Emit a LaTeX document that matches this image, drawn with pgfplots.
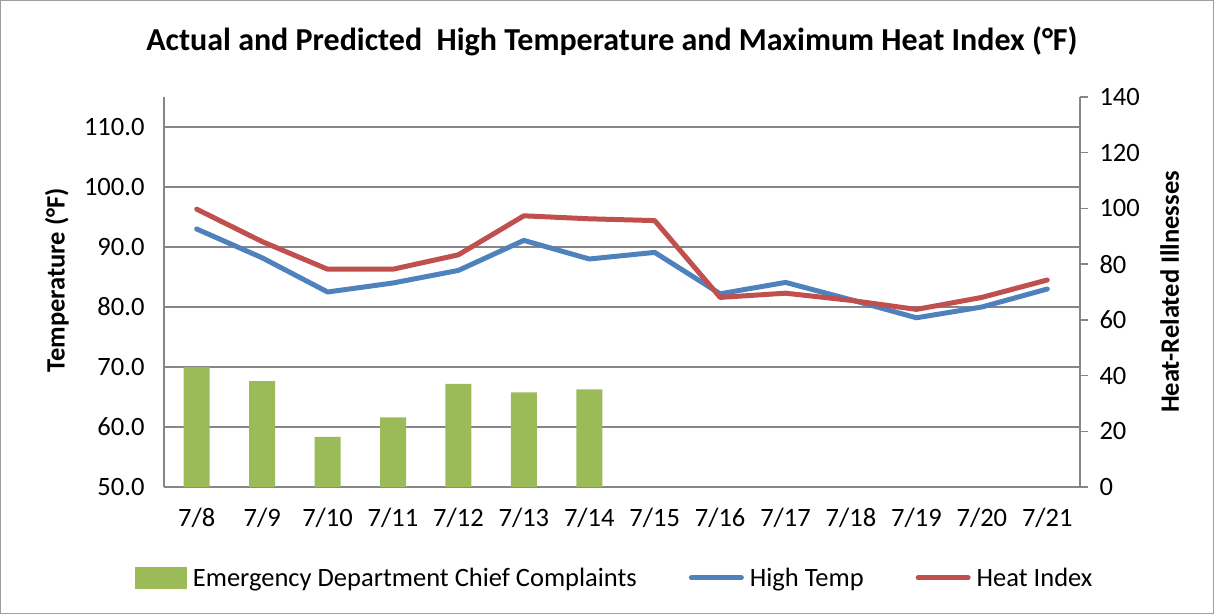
\documentclass[border=0pt]{standalone}
\usepackage{pgfplots}
\usepackage{pgfplotstable}
\pgfplotsset{compat=1.18}
\usepackage{fontspec}
\setmainfont{Carlito}
\definecolor{cblue}{HTML}{4F81BD}
\definecolor{cred}{HTML}{C0504D}
\definecolor{cgreen}{HTML}{9BBB59}
\definecolor{cgrid}{HTML}{868686}

\pgfplotstableread{
x ht hi
0 93.0 96.3
1 88.2 90.9
2 82.5 86.3
3 84.0 86.3
4 86.1 88.7
5 91.1 95.2
6 88.0 94.7
7 89.1 94.4
8 82.2 81.6
9 84.1 82.3
10 81.2 81.1
11 78.2 79.6
12 80.0 81.6
13 83.0 84.5
}\temps

\pgfplotstableread{
x c
0 43
1 38
2 18
3 25
4 37
5 34
6 35
}\ed

\begin{document}
\begin{tikzpicture}[font=\fontsize{26.5bp}{31bp}\selectfont]
\pgfplotsset{
  every axis/.append style={
    scale only axis, width=916bp, height=390bp,
    xmin=-0.5, xmax=13.5,
    axis line style={-, cgrid, line width=1.3bp},
    tick style={cgrid, line width=1.3bp},
  }
}
\begin{axis}[
  ymin=50, ymax=115,
  axis x line*=bottom, axis y line*=left,
  xtick={0,...,13},
  xticklabels={7/8,7/9,7/10,7/11,7/12,7/13,7/14,7/15,7/16,7/17,7/18,7/19,7/20,7/21},
  ytick={50,60,...,110},
  major tick length=0pt,
  ymajorgrids, grid style={cgrid, line width=1.3bp},
  yticklabel style={/pgf/number format/fixed, /pgf/number format/fixed zerofill, /pgf/number format/precision=1, /pgf/number format/assume math mode=true, xshift=-16bp},
  xticklabel style={/pgf/number format/assume math mode=true, yshift=-18bp},
  ylabel={\bfseries Temperature (°F)},
  ylabel style={at={(axis description cs:-0.117,0.53)}, anchor=center},
  title={\bfseries Actual and Predicted\ \ High Temperature and Maximum Heat Index (°F)},
  title style={at={(axis description cs:0.489,1)}, anchor=base, yshift=41bp, font=\fontsize{32bp}{36bp}\selectfont},
]
\coordinate (o) at (rel axis cs:0,0);
\addplot[cblue, line width=5bp, line join=round, line cap=round] table[x=x,y=ht]{\temps};
\addplot[cred, line width=5bp, line join=round, line cap=round] table[x=x,y=hi]{\temps};
\end{axis}
\begin{axis}[
  ymin=0, ymax=140,
  axis y line*=right, hide x axis,
  ytick={0,20,...,140},
  tick align=outside, major tick length=8bp,
  yticklabel style={/pgf/number format/assume math mode=true, xshift=8bp},
  ylabel={\bfseries Heat-Related Illnesses},
  ylabel style={at={(axis description cs:1.098,0.5)}, anchor=center},
  legend style={at={(axis description cs:0.492,-0.233)}, anchor=center, draw=none, fill=none,
    legend columns=3,
    /tikz/every odd column/.append style={column sep=4bp},
    /tikz/every even column/.append style={column sep=50bp},
    font=\fontsize{26.5bp}{31bp}\selectfont},
  legend cell align=left,
]
\addplot[ybar, bar width=26bp, fill=cgreen, draw=none,
  legend image code/.code={\fill[cgreen] (-4bp,-11bp) rectangle (48bp,11bp);}]
  table[x=x,y=c]{\ed};
\addlegendentry{Emergency Department Chief Complaints}
\addlegendimage{legend image code/.code={\draw[line width=5bp,cblue,line cap=round] (-1.5bp,0bp) -- (48.5bp,0bp);}}
\addlegendentry{High Temp}
\addlegendimage{legend image code/.code={\draw[line width=5bp,cred,line cap=round] (-1.5bp,0bp) -- (48.5bp,0bp);}}
\addlegendentry{Heat Index}
\end{axis}
\draw[cgrid!80, line width=1.2bp] ([shift={(-163.4bp,-126.4bp)}]o) rectangle ++(1212.8bp,612.8bp);
\pgfresetboundingbox
\path[use as bounding box] ([shift={(-164bp,-127bp)}]o) rectangle ++(1214bp,614bp);
\end{tikzpicture}
\end{document}
